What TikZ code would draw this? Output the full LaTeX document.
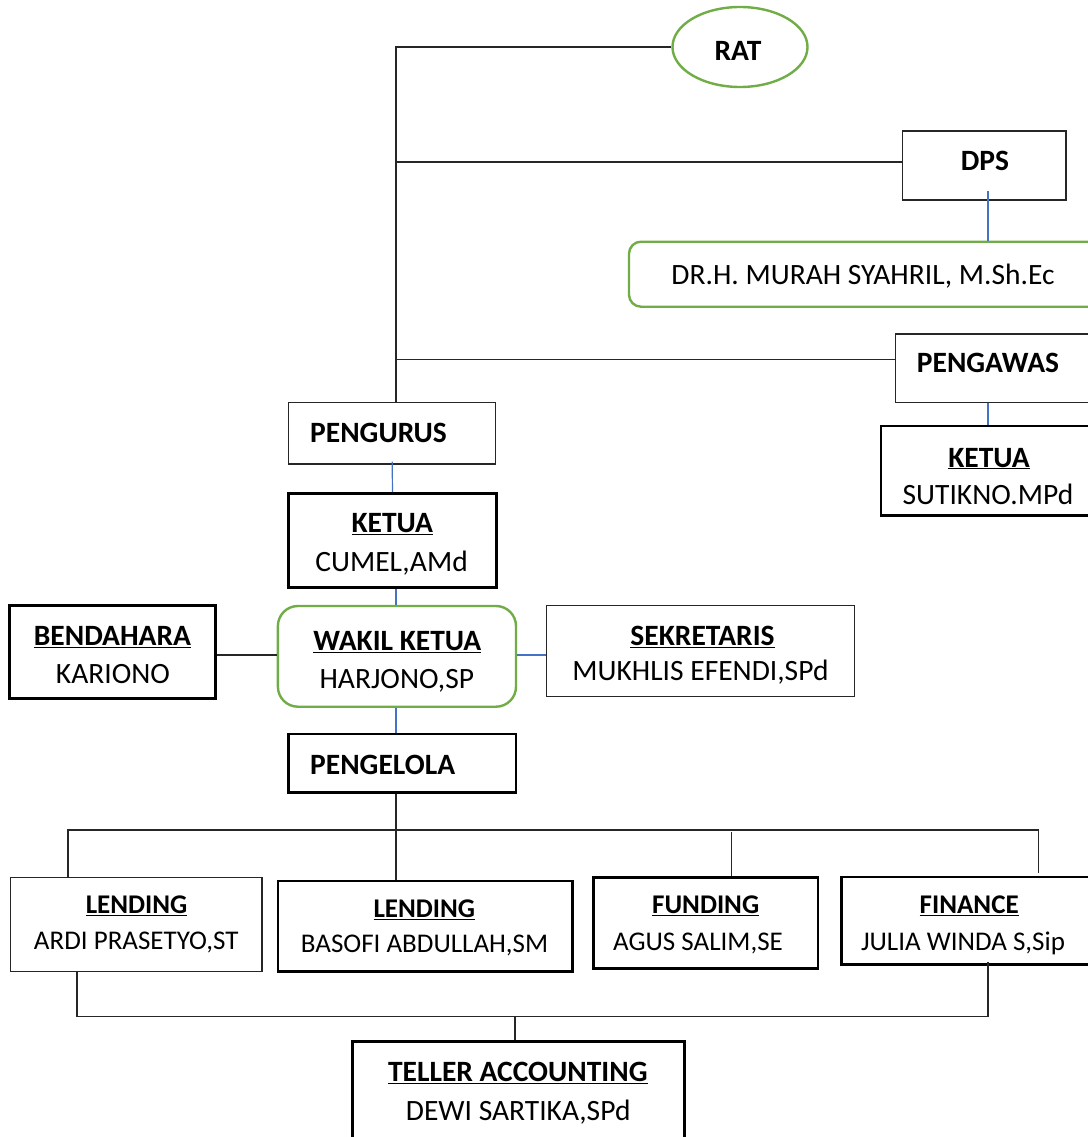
\documentclass[tikz,border=0pt]{standalone}
\usepackage{fontspec}
\setmainfont{Carlito}
\usetikzlibrary{shapes.geometric,fit}
\definecolor{ogreen}{HTML}{70AD47}
\definecolor{oblue}{HTML}{4472C4}
\begin{document}
\begin{tikzpicture}[x=1pt,y=-1pt,
  thinbox/.style={draw=black!85, line width=1.2pt, inner sep=0pt},
  thickbox/.style={draw=black, line width=2.6pt, inner sep=0pt},
  greenbox/.style={draw=ogreen, line width=2.4pt, inner sep=0pt, rounded corners=#1},
  txt/.style={inner sep=0pt, text height=19pt, text depth=0pt, font=\fontsize{29.5}{35}\selectfont},
  btxt/.style={inner sep=0pt, text height=17.2pt, text depth=0pt, font=\fontsize{27}{32}\selectfont},
  bold/.style={font=\fontsize{29.5}{35}\selectfont\bfseries},
  bbold/.style={font=\fontsize{27}{32}\selectfont\bfseries},
  conn/.style={draw=black!85, line width=1.2pt},
  bconn/.style={draw=oblue, line width=1.2pt}]
\useasboundingbox (0,0) rectangle (1087,1137);

% boxes
\node[ellipse, draw=ogreen, line width=2.4pt, minimum width=135pt, minimum height=80pt, inner sep=0pt] (rat) at (740,47) {};
\node[thinbox, fit={(902.7,131) (1066,200)}] (dps) {};
\node[greenbox=12pt, fit={(629,241.7) (1110,306.7)}] (dr) {};
\node[thinbox, fit={(895.7,334) (1110,402.7)}] (pengawas) {};
\node[thickbox, fit={(881,426) (1110,515.7)}] (ketuab) {};
\node[thinbox, fit={(288.6,402.7) (495.7,464)}] (pengurus) {};
\node[thickbox, fit={(288.6,493.3) (496.4,587.7)}] (ketuaa) {};
\node[greenbox=20pt, fit={(277.9,606) (516,706.7)}] (wakil) {};
\node[thickbox, fit={(9.6,605.7) (215.7,698.3)}] (bendahara) {};
\node[thinbox, fit={(546.7,605.7) (854.3,696.7)}] (sekretaris) {};
\node[thickbox, fit={(288.4,734) (515.8,792.7)}] (pengelola) {};
\node[thinbox, fit={(10.4,877.3) (262,971.7)}] (lendinga) {};
\node[thickbox, fit={(278,881) (572.6,971.7)}] (lendingb) {};
\node[thickbox, fit={(593.4,877.7) (818,968.3)}] (funding) {};
\node[thickbox, fit={(841.6,877) (1110,964.3)}] (finance) {};
\node[thickbox, fit={(352.2,1041.7) (684.2,1170)}] (teller) {};

% texts
\node[txt, bold] (tRat) at (738,51) {RAT};
\node[txt, bold] (tDps) at (985,161) {DPS};
\node[txt] (tDr) at (863,275) {DR.H. MURAH SYAHRIL, M.Sh.Ec};
\node[txt, bold, anchor=west] (tPengawas) at (916.7,362.8) {PENGAWAS};
\node[txt, bold] (tKetuab) at (989,457.5) {\underline{KETUA}};
\node[txt] (tSutikno) at (988,494.5) {SUTIKNO.MPd};
\node[txt, bold, anchor=west] (tPengurus) at (310,432.5) {PENGURUS};
\node[txt, bold] (tKetuaa) at (392.3,522.8) {\underline{KETUA}};
\node[txt] (tCumel) at (391.6,562.2) {CUMEL,AMd};
\node[txt, bold] (tWakil) at (397.3,640.8) {\underline{WAKIL KETUA}};
\node[txt] (tHarjono) at (396.8,679.2) {HARJONO,SP};
\node[txt, bold] (tBendahara) at (112.5,635.8) {\underline{BENDAHARA}};
\node[txt] (tKariono) at (112.9,674.3) {KARIONO};
\node[txt, bold] (tSekretaris) at (702.5,635.7) {\underline{SEKRETARIS}};
\node[txt] (tMukhlis) at (700.5,670.8) {MUKHLIS EFENDI,SPd};
\node[txt, bold, anchor=west] (tPengelola) at (310,765.3) {PENGELOLA};
\node[btxt, bbold] (tLendinga) at (136.6,905.3) {\underline{LENDING}};
\node[btxt] (tArdi) at (136.2,941.3) {ARDI PRASETYO,ST};
\node[btxt, bbold] (tLendingb) at (424.3,909.2) {\underline{LENDING}};
\node[btxt] (tBasofi) at (424.6,944.2) {BASOFI ABDULLAH,SM};
\node[btxt, bbold] (tFunding) at (705.7,905.3) {\underline{FUNDING}};
\node[btxt] (tAgus) at (698,942.2) {AGUS SALIM,SE};
\node[btxt, bbold] (tFinance) at (969.2,905.3) {\underline{FINANCE}};
\node[btxt] (tJulia) at (963,942) {JULIA WINDA S,Sip};
\node[txt, bold] (tTeller) at (517.8,1072) {\underline{TELLER ACCOUNTING}};
\node[txt] (tDewi) at (518.2,1110.5) {DEWI SARTIKA,SPd};

% helper coordinates
\coordinate (spine) at (396,47);
\coordinate (xk) at (988,191);
\coordinate (xm) at (396,0);
\coordinate (hw) at (0,655);
\coordinate (busL) at (68,830);
\coordinate (busR) at (1038.5,830);
\coordinate (xf) at (731.4,832);
\coordinate (botL) at (77,1016.7);
\coordinate (botR) at (988,1016.7);
\coordinate (botM) at (515,1016.7);

% connectors
\draw[conn] (rat.west) -- (spine) -- (spine |- pengurus.north);
\draw[conn] (spine |- dps.west) ++(0,-3.5) -- ([yshift=3.5pt]dps.west);
\draw[conn] (spine |- pengawas.west) ++(0,-9) -- ([yshift=9pt]pengawas.west);
\draw[bconn] (xk) -- (xk |- dr.north);
\draw[bconn] (xk |- pengawas.south) -- (xk |- ketuab.north);
\draw[bconn] ([yshift=3pt]pengurus.south) -- (ketuaa.north);
\draw[bconn] (xm |- ketuaa.south) -- (xm |- wakil.north);
\draw[conn] (hw -| bendahara.east) -- (hw -| wakil.west);
\draw[bconn] (hw -| wakil.east) -- (hw -| sekretaris.west);
\draw[bconn] (xm |- wakil.south) -- (xm |- pengelola.north);
\draw[conn] (xm |- pengelola.south) -- (xm |- lendingb.north);
\draw[conn] (busL |- lendinga.north) -- (busL) -- (busR) -- (busR |- 0,873);
\draw[conn] (xf) -- (xf |- funding.north);
\draw[conn] (botL |- lendinga.south) -- (botL) -- (botR) -- (botR |- 0,961.7);
\draw[conn] (botM) -- (botM |- teller.north);
\end{tikzpicture}
\end{document}
